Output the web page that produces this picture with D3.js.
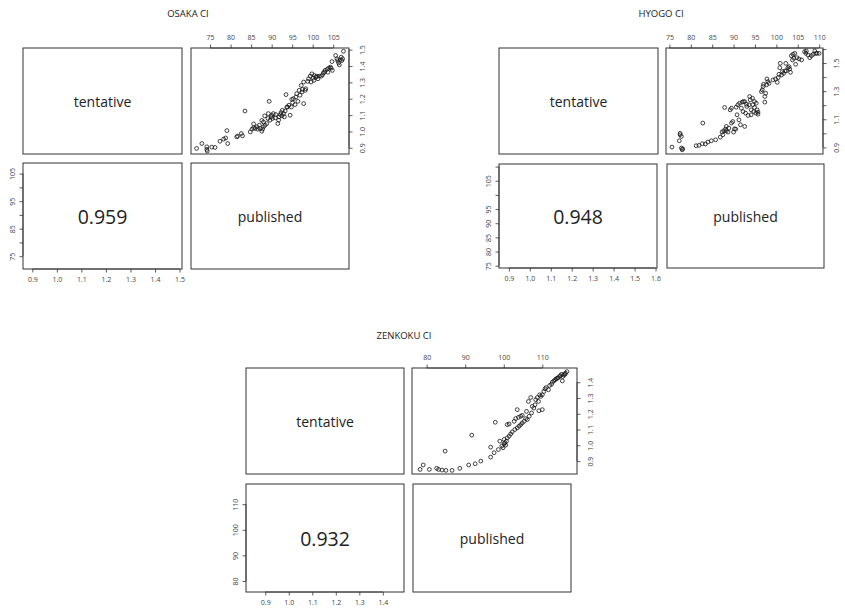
<!DOCTYPE html>
<html>
<head>
<meta charset="utf-8">
<script src="https://cdn.jsdelivr.net/npm/d3@7"></script>
<style>
  html, body { margin: 0; padding: 0; background: #fff; }
  svg { display: block; opacity: 0.999; }
  .tick text { font-family: "Open Sans", sans-serif; font-size: 7px; fill: #444; }
  .tick line { stroke: #333; stroke-width: 0.8; }
</style>
</head>
<body>
<svg id="chart" width="845" height="609"></svg>
<script>
// ---- OSAKA CI ----
const osakaPublished = [71.7,73.0,74.2,74.2,74.3,75.4,76.2,77.4,78.3,78.8,79.1,79.3,81.5,81.7,82.6,82.9,83.5,84.8,85.2,85.6,86.0,85.6,86.4,86.6,87.0,87.2,87.6,87.8,88.0,87.6,88.0,88.3,88.4,88.8,89.1,89.2,89.4,89.6,89.9,90.0,90.2,90.4,90.9,91.0,91.5,91.7,91.8,92.1,92.3,92.5,92.6,92.9,93.1,93.3,93.5,93.7,93.9,94.2,94.5,94.8,94.9,95.3,95.1,95.7,95.9,96.1,96.4,96.7,96.9,97.2,97.4,97.5,97.8,97.8,98.2,98.3,98.8,99.0,99.4,99.6,99.8,100.1,100.3,100.4,100.8,101.0,101.3,101.6,102.1,102.4,102.6,102.9,103.0,103.5,103.7,103.9,104.3,104.5,104.7,104.8,105.6,105.9,106.1,106.3,106.5,106.7,106.95,107.1,107.3,107.5];
const osakaTentative = [0.896,0.926,0.890,0.906,0.880,0.904,0.902,0.940,0.953,0.960,1.005,0.926,0.967,0.971,0.987,0.973,1.125,0.997,1.014,1.022,1.018,1.046,1.028,1.014,1.038,1.018,1.001,1.014,1.028,1.067,1.058,1.095,1.038,1.048,1.079,1.109,1.184,1.069,1.089,1.099,1.079,1.109,1.083,1.103,1.048,1.069,1.089,1.103,1.115,1.095,1.129,1.109,1.089,1.125,1.225,1.149,1.149,1.160,1.099,1.149,1.196,1.200,1.176,1.164,1.210,1.231,1.184,1.251,1.221,1.281,1.241,1.257,1.170,1.302,1.251,1.261,1.306,1.322,1.338,1.302,1.352,1.326,1.312,1.342,1.332,1.338,1.322,1.338,1.338,1.346,1.358,1.362,1.373,1.379,1.362,1.387,1.393,1.387,1.427,1.373,1.464,1.444,1.433,1.419,1.407,1.437,1.454,1.433,1.444,1.490];
const osakaCorr = "0.959";
const osakaPubTicks = [75,80,85,90,95,100,105];
const osakaPubLabelsTop = ["75","80","85","90","95","100","105"];
const osakaPubLabelsLeft = ["75","","85","","95","","105"];
const osakaTenTicks = [0.9,1.0,1.1,1.2,1.3,1.4,1.5];
const osakaTenLabelsRight = ["0.9","1.0","1.1","1.2","1.3","1.4","1.5"];
const osakaTenLabelsBottom = ["0.9","1.0","1.1","1.2","1.3","1.4","1.5"];

// ---- HYOGO CI ----
const hyogoPublished = [75.6,77.5,77.5,77.3,77.8,77.8,78.0,78.1,81.25,81.9,82.7,83.4,84.0,84.8,85.8,82.8,86.9,87.3,87.5,87.7,87.9,88.1,88.3,88.3,88.7,88.9,89.2,89.5,89.5,89.8,90.0,90.2,90.5,90.6,90.8,91.0,91.25,91.4,91.6,91.8,92.0,92.2,92.3,92.6,92.6,92.8,93.0,93.1,93.4,93.6,93.75,93.9,94.1,94.1,94.4,94.5,94.7,94.9,94.9,95.2,95.3,95.5,95.7,95.7,96.5,96.7,96.9,97.0,97.3,97.3,97.5,97.7,97.8,98.0,98.3,99.2,99.8,100.2,100.4,100.6,100.8,100.9,101.2,101.4,101.7,102.0,102.2,102.3,102.7,102.97,103.1,103.3,103.5,103.9,104.3,103.75,104.1,104.5,104.8,105.3,105.9,106.6,106.9,107.0,107.4,107.8,108.2,108.6,108.98,109.2,109.5,110.0];
const hyogoTentative = [0.902,0.990,1.000,0.947,0.978,0.895,0.883,0.890,0.912,0.914,0.926,0.924,0.938,0.947,0.954,1.073,0.973,1.009,0.990,1.018,1.184,1.030,1.049,1.018,1.009,1.037,1.167,1.179,1.073,1.084,1.009,1.032,1.030,1.186,1.132,1.203,1.096,1.214,1.061,1.179,1.222,1.155,1.226,1.049,1.226,1.144,1.207,1.191,1.127,1.203,1.262,1.238,1.167,1.132,1.250,1.203,1.155,1.184,1.226,1.144,1.214,1.167,1.151,1.136,1.297,1.309,1.333,1.349,1.262,1.222,1.285,1.345,1.387,1.368,1.356,1.380,1.387,1.363,1.396,1.420,1.467,1.498,1.415,1.439,1.427,1.444,1.498,1.444,1.467,1.474,1.458,1.434,1.552,1.562,1.569,1.522,1.534,1.491,1.538,1.529,1.522,1.581,1.569,1.586,1.557,1.538,1.552,1.562,1.586,1.569,1.569,1.569];
const hyogoCorr = "0.948";
const hyogoPubTicks = [75,80,85,90,95,100,105,110];
const hyogoPubLabelsTop = ["75","80","85","90","95","100","105","110"];
const hyogoPubLabelsLeft = ["75","80","85","90","95","","105",""];
const hyogoTenTicks = [0.9,1.0,1.1,1.2,1.3,1.4,1.5,1.6];
const hyogoTenLabelsRight = ["0.9","","1.1","","1.3","","1.5",""];
const hyogoTenLabelsBottom = ["0.9","1.0","1.1","1.2","1.3","1.4","1.5","1.6"];

// ---- ZENKOKU CI ----
const zenkokuPublished = [78.3,79.1,80.7,82.6,83.1,84.0,85.0,84.8,86.6,88.6,90.9,91.7,92.6,94.05,96.6,96.6,97.5,97.8,98.6,98.97,99.5,99.8,100.1,100.1,100.3,100.5,100.7,100.9,101.4,100.9,101.4,101.8,102.2,102.7,103.1,103.5,103.8,104.4,104.8,102.9,103.5,103.97,104.4,104.8,105.3,105.7,105.9,106.1,106.6,106.4,107.0,107.2,107.4,107.8,108.1,108.3,108.7,109.0,109.1,109.3,109.6,110.0,110.0,110.4,110.7,111.0,111.6,111.9,112.4,112.6,113.0,113.3,113.6,113.9,114.1,114.5,114.7,115.0,115.2,115.3,115.6,115.9,116.0,116.4];
const zenkokuTentative = [0.847,0.875,0.847,0.854,0.847,0.843,0.841,0.963,0.841,0.854,0.875,1.064,0.883,0.900,0.925,0.988,0.953,1.146,0.973,1.026,0.995,0.984,1.009,1.037,1.016,1.001,1.026,1.131,1.135,1.047,1.058,1.072,1.085,1.152,1.169,1.226,1.177,1.184,1.190,1.100,1.110,1.121,1.131,1.142,1.152,1.169,1.215,1.163,1.184,1.278,1.303,1.205,1.247,1.236,1.257,1.289,1.303,1.278,1.219,1.320,1.310,1.320,1.226,1.341,1.358,1.366,1.352,1.379,1.387,1.400,1.408,1.415,1.421,1.425,1.429,1.436,1.442,1.450,1.408,1.436,1.446,1.450,1.457,1.467];
const zenkokuCorr = "0.932";
const zenkokuPubTicks = [80,90,100,110];
const zenkokuPubLabelsTop = ["80","90","100","110"];
const zenkokuPubLabelsLeft = ["80","90","100","110"];
const zenkokuTenTicks = [0.9,1.0,1.1,1.2,1.3,1.4];
const zenkokuTenLabelsRight = ["0.9","1.0","1.1","1.2","1.3","1.4"];
const zenkokuTenLabelsBottom = ["0.9","1.0","1.1","1.2","1.3","1.4"];

const svg = d3.select("#chart");
const TICK = 3.5;
const textFont = '"Open Sans", sans-serif';

function box(g, p) {
  g.append("rect")
    .attr("x", p.x0).attr("y", p.y0)
    .attr("width", p.x1 - p.x0).attr("height", p.y1 - p.y0)
    .attr("fill", "none").attr("stroke", "#333").attr("stroke-width", 1);
}

function centerText(g, p, txt, size) {
  g.append("text")
    .attr("x", (p.x0 + p.x1) / 2)
    .attr("y", (p.y0 + p.y1) / 2)
    .attr("text-anchor", "middle")
    .attr("dominant-baseline", "central")
    .attr("font-family", textFont)
    .attr("font-size", size)
    .attr("fill", "#222")
    .text(txt);
}

// axis line spanning only the first to last tick, R style
function axisLine(g, scale, ticks, horizontal, pos) {
  const a = scale(ticks[0]), b = scale(ticks[ticks.length - 1]);
  g.append("line")
    .attr("x1", horizontal ? a : pos).attr("x2", horizontal ? b : pos)
    .attr("y1", horizontal ? pos : a).attr("y2", horizontal ? pos : b)
    .attr("stroke", "#333").attr("stroke-width", 0.8);
}

function labeler(ticks, labels) {
  return v => { const i = ticks.findIndex(t => Math.abs(t - v) < 1e-9); return i >= 0 ? labels[i] : ""; };
}

function drawPairs(cfg) {
  const g = svg.append("g");
  const { tl, tr, bl, br } = cfg;

  // scales for the scatter (top right) and the empty lower panel axes
  const xPubTR = d3.scaleLinear().domain(cfg.pubDomain).range([tr.x0, tr.x1]);
  const yTenTR = d3.scaleLinear().domain(cfg.tenDomain).range([tr.y1, tr.y0]);
  const xTenBL = d3.scaleLinear().domain(cfg.tenDomain).range([bl.x0, bl.x1]);
  const yPubBL = d3.scaleLinear().domain(cfg.pubDomainV || cfg.pubDomain).range([bl.y1, bl.y0]);

  [tl, tr, bl, br].forEach(p => box(g, p));

  centerText(g, tl, "tentative", 14);
  centerText(g, br, "published", 14);
  centerText(g, bl, cfg.corr, 19.5);

  // title
  g.append("text")
    .attr("x", cfg.titleX).attr("y", cfg.titleY)
    .attr("text-anchor", "middle")
    .attr("font-family", textFont).attr("font-size", 9.5).attr("fill", "#222")
    .text(cfg.title);

  // top axis: published
  const top = g.append("g").attr("transform", `translate(0,${tr.y0})`)
    .call(d3.axisTop(xPubTR).tickValues(cfg.pubTicks).tickSize(TICK).tickSizeOuter(0)
      .tickPadding(5).tickFormat(labeler(cfg.pubTicks, cfg.pubLabelsTop)));
  top.select(".domain").remove();
  axisLine(g, xPubTR, cfg.pubTicks, true, tr.y0);

  // right axis: tentative
  const right = g.append("g").attr("transform", `translate(${tr.x1},0)`)
    .call(d3.axisRight(yTenTR).tickValues(cfg.tenTicks).tickSize(TICK).tickSizeOuter(0)
      .tickFormat(labeler(cfg.tenTicks, cfg.tenLabelsRight)));
  right.select(".domain").remove();
  right.selectAll(".tick text")
    .attr("transform", "rotate(-90)")
    .attr("x", 0).attr("dy", 0).attr("y", 15.5)
    .attr("text-anchor", "middle");
  axisLine(g, yTenTR, cfg.tenTicks, false, tr.x1);

  // left axis: published
  const left = g.append("g").attr("transform", `translate(${bl.x0},0)`)
    .call(d3.axisLeft(yPubBL).tickValues(cfg.pubTicks).tickSize(TICK).tickSizeOuter(0)
      .tickFormat(labeler(cfg.pubTicks, cfg.pubLabelsLeft)));
  left.select(".domain").remove();
  left.selectAll(".tick text")
    .attr("transform", "rotate(-90)")
    .attr("x", 0).attr("dy", 0).attr("y", -8.5)
    .attr("text-anchor", "middle");
  axisLine(g, yPubBL, cfg.pubTicks, false, bl.x0);

  // bottom axis: tentative
  const bottom = g.append("g").attr("transform", `translate(0,${bl.y1})`)
    .call(d3.axisBottom(xTenBL).tickValues(cfg.tenTicks).tickSize(TICK).tickSizeOuter(0)
      .tickPadding(5).tickFormat(labeler(cfg.tenTicks, cfg.tenLabelsBottom)));
  bottom.select(".domain").remove();
  axisLine(g, xTenBL, cfg.tenTicks, true, bl.y1);

  // scatter of published vs tentative
  g.append("g").selectAll("circle")
    .data(d3.zip(cfg.published, cfg.tentative))
    .join("circle")
    .attr("cx", d => xPubTR(d[0]))
    .attr("cy", d => yTenTR(d[1]))
    .attr("r", 1.9)
    .attr("fill", "none")
    .attr("stroke", "#111")
    .attr("stroke-width", 0.8);
}

drawPairs({
  title: "OSAKA CI", titleX: 188, titleY: 17,
  tl: { x0: 23, x1: 182, y0: 48, y1: 154 },
  tr: { x0: 191, x1: 349, y0: 48, y1: 154 },
  bl: { x0: 23, x1: 182, y0: 163, y1: 269 },
  br: { x0: 191, x1: 349, y0: 163, y1: 269 },
  pubDomain: [70.35, 108.85], tenDomain: [0.862, 1.51],
  published: osakaPublished, tentative: osakaTentative, corr: osakaCorr,
  pubTicks: osakaPubTicks, pubLabelsTop: osakaPubLabelsTop, pubLabelsLeft: osakaPubLabelsLeft,
  tenTicks: osakaTenTicks, tenLabelsRight: osakaTenLabelsRight, tenLabelsBottom: osakaTenLabelsBottom
});

drawPairs({
  title: "HYOGO CI", titleX: 661, titleY: 17,
  tl: { x0: 499, x1: 658, y0: 48, y1: 154 },
  tr: { x0: 666, x1: 823, y0: 48, y1: 154 },
  bl: { x0: 499, x1: 657, y0: 164, y1: 268 },
  br: { x0: 667, x1: 824, y0: 164, y1: 268 },
  pubDomain: [74.2, 110.9], tenDomain: [0.853, 1.607],
  published: hyogoPublished, tentative: hyogoTentative, corr: hyogoCorr,
  pubTicks: hyogoPubTicks, pubLabelsTop: hyogoPubLabelsTop, pubLabelsLeft: hyogoPubLabelsLeft,
  tenTicks: hyogoTenTicks, tenLabelsRight: hyogoTenLabelsRight, tenLabelsBottom: hyogoTenLabelsBottom
});

drawPairs({
  title: "ZENKOKU CI", titleX: 404, titleY: 339,
  tl: { x0: 246, x1: 404, y0: 368, y1: 474 },
  tr: { x0: 412, x1: 577, y0: 368, y1: 474 },
  bl: { x0: 246, x1: 404, y0: 484, y1: 592 },
  br: { x0: 413, x1: 571, y0: 484, y1: 592 },
  pubDomain: [76.2, 119.0], pubDomainV: [75.7, 117.9], tenDomain: [0.818, 1.49],
  published: zenkokuPublished, tentative: zenkokuTentative, corr: zenkokuCorr,
  pubTicks: zenkokuPubTicks, pubLabelsTop: zenkokuPubLabelsTop, pubLabelsLeft: zenkokuPubLabelsLeft,
  tenTicks: zenkokuTenTicks, tenLabelsRight: zenkokuTenLabelsRight, tenLabelsBottom: zenkokuTenLabelsBottom
});
</script>
</body>
</html>
